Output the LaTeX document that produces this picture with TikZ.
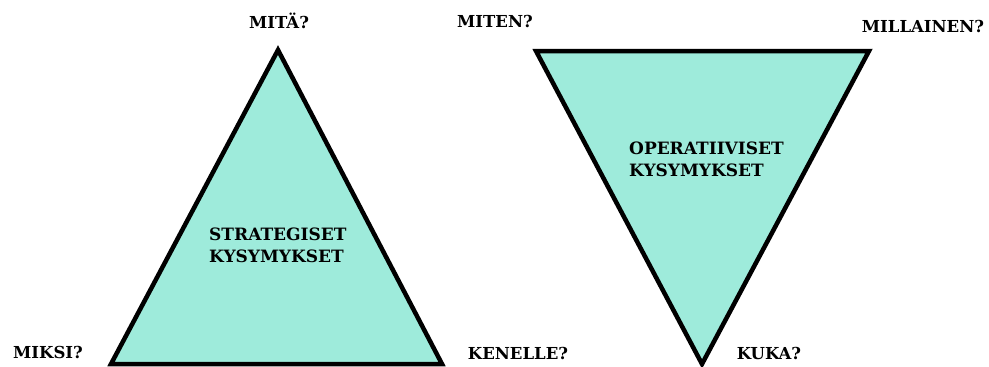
\documentclass[tikz,border=0pt]{standalone}
\usepackage{fontspec}
\setmainfont{DejaVu Serif}
\definecolor{tfill}{RGB}{158,235,219}
\begin{document}
\begin{tikzpicture}[x=1pt,y=-1pt,
  lbl/.style={font=\bfseries\fontsize{16.5}{18}\selectfont, inner sep=0pt},
  inlbl/.style={font=\bfseries\fontsize{17}{22}\selectfont, inner sep=0pt, align=left, anchor=north west},
  tri/.style={draw=black, fill=tfill, line width=4.5pt, line join=miter}]
\useasboundingbox (0,0) rectangle (989,367);
\coordinate (la) at (278,50);
\coordinate (ll) at (111,364);
\coordinate (lr) at (442,364);
\coordinate (rl) at (536,51);
\coordinate (rr) at (869,51);
\coordinate (rb) at (702,364);
\draw[tri] (la) -- (lr) -- (ll) -- cycle;
\draw[tri] (rl) -- (rr) -- (rb) -- cycle;
\node[lbl] (mita) at (279,21) {MITÄ?};
\node[lbl] (miksi) at (48,352) {MIKSI?};
\node[lbl] (kenelle) at (518,353) {KENELLE?};
\node[lbl] (miten) at (495,21) {MITEN?};
\node[lbl] (millainen) at (923,26) {MILLAINEN?};
\node[lbl] (kuka) at (769,353) {KUKA?};
\node[inlbl] (strat) at (209,228) {STRATEGISET\\KYSYMYKSET};
\node[inlbl] (oper) at (629,142) {OPERATIIVISET\\KYSYMYKSET};
\end{tikzpicture}
\end{document}
